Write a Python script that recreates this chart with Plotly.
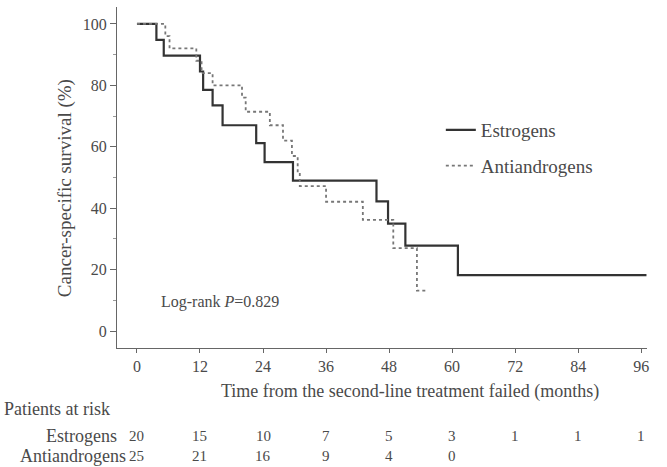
import plotly.graph_objects as go

# Kaplan-Meier step data (months, survival %)
est_t = [0, 3.7, 5.1, 12.0, 12.6, 14.4, 16.3, 22.7, 24.3, 29.7, 45.6, 47.8, 51.1, 61.1, 97]
est_s = [100, 94.8, 89.7, 84.5, 78.5, 73.5, 67.0, 61.2, 55.0, 49.0, 42.2, 35.0, 27.8, 18.2, 18.2]

anti_t = [0, 5.4, 6.2, 11.3, 12.3, 14.4, 20.0, 20.7, 25.3, 27.8, 29.5, 30.6, 31.0, 36.0, 43.0, 48.8, 53.3, 55.4]
anti_s = [100, 96, 92, 88, 84, 80, 76, 71.4, 67, 62, 57, 51.5, 47.2, 42.1, 36.2, 27, 13.2, 13.2]

x_ticks = [0, 12, 24, 36, 48, 60, 72, 84, 96]
y_ticks = [0, 20, 40, 60, 80, 100]

risk_est = [20, 15, 10, 7, 5, 3, 1, 1, 1]
risk_anti = [25, 21, 16, 9, 4, 0]

FONT = "Liberation Serif, Times New Roman, serif"
TXT = "#4a4a4a"

fig = go.Figure()
fig.add_trace(go.Scatter(x=est_t, y=est_s, mode="lines", line_shape="hv",
                         line=dict(color="#333333", width=2.2), name="Estrogens",
                         legendgroup="a"))
fig.add_trace(go.Scatter(x=anti_t, y=anti_s, mode="lines", line_shape="hv",
                         line=dict(color="#777777", width=1.8, dash="dot"), name="Antiandrogens",
                         legendgroup="b"))

fig.update_layout(
    width=667, height=467,
    margin=dict(l=117, r=20, t=7, b=119),
    plot_bgcolor="white", paper_bgcolor="white",
    font=dict(family=FONT, size=16, color=TXT),
    showlegend=True,
    legend=dict(x=0.611, y=0.695, xanchor="left", yanchor="top",
                bgcolor="rgba(0,0,0,0)", font=dict(family=FONT, size=19, color=TXT),
                tracegroupgap=8, itemwidth=30),
    xaxis=dict(range=[-3.8, 97.1], tickvals=x_ticks, ticktext=[str(v) for v in x_ticks],
               showgrid=False, zeroline=False, showline=True, linecolor="#666666", linewidth=1.2,
               ticks="outside", ticklen=4, tickcolor="#666666",
               tickfont=dict(family=FONT, size=16, color=TXT)),
    yaxis=dict(range=[-5.5, 105.5], tickvals=y_ticks, ticktext=[str(v) for v in y_ticks],
               showgrid=False, zeroline=False, showline=True, linecolor="#666666", linewidth=1.2,
               ticks="outside", ticklen=6, tickcolor="#666666",
               tickfont=dict(family=FONT, size=16, color=TXT),
               minor=dict(tickvals=[10, 30, 50, 70, 90], ticks="outside", ticklen=3, tickcolor="#999999")),
)

def a(text, x, y, xref="paper", yref="paper", xanchor="center", size=16, **kw):
    return dict(text=text, x=x, y=y, xref=xref, yref=yref, xanchor=xanchor, yanchor="middle",
                showarrow=False, font=dict(family=FONT, size=size, color=TXT), **kw)

ann = []
ann.append(a("Cancer-specific survival (%)", -0.098, 0.469, textangle=-90, size=19))
ann.append(a("Time from the second-line treatment failed (months)", 0.553, -0.129, size=18))
ann.append(a("Log-rank <i>P</i>=0.829", 15.8, 9.4, xref="x", yref="y", size=16))
ann.append(a("Patients at risk", -0.217, -0.179, xanchor="left", size=18))
ann.append(a("Estrogens", 0.004, -0.258, xanchor="right", size=18))
ann.append(a("Antiandrogens", 0.021, -0.318, xanchor="right", size=18))
for xv, n in zip(x_ticks, risk_est):
    ann.append(a(str(n), xv, -0.258, xref="x", size=15))
for xv, n in zip(x_ticks, risk_anti):
    ann.append(a(str(n), xv, -0.318, xref="x", size=15))
fig.update_layout(annotations=ann)

fig.write_html("out.html")
